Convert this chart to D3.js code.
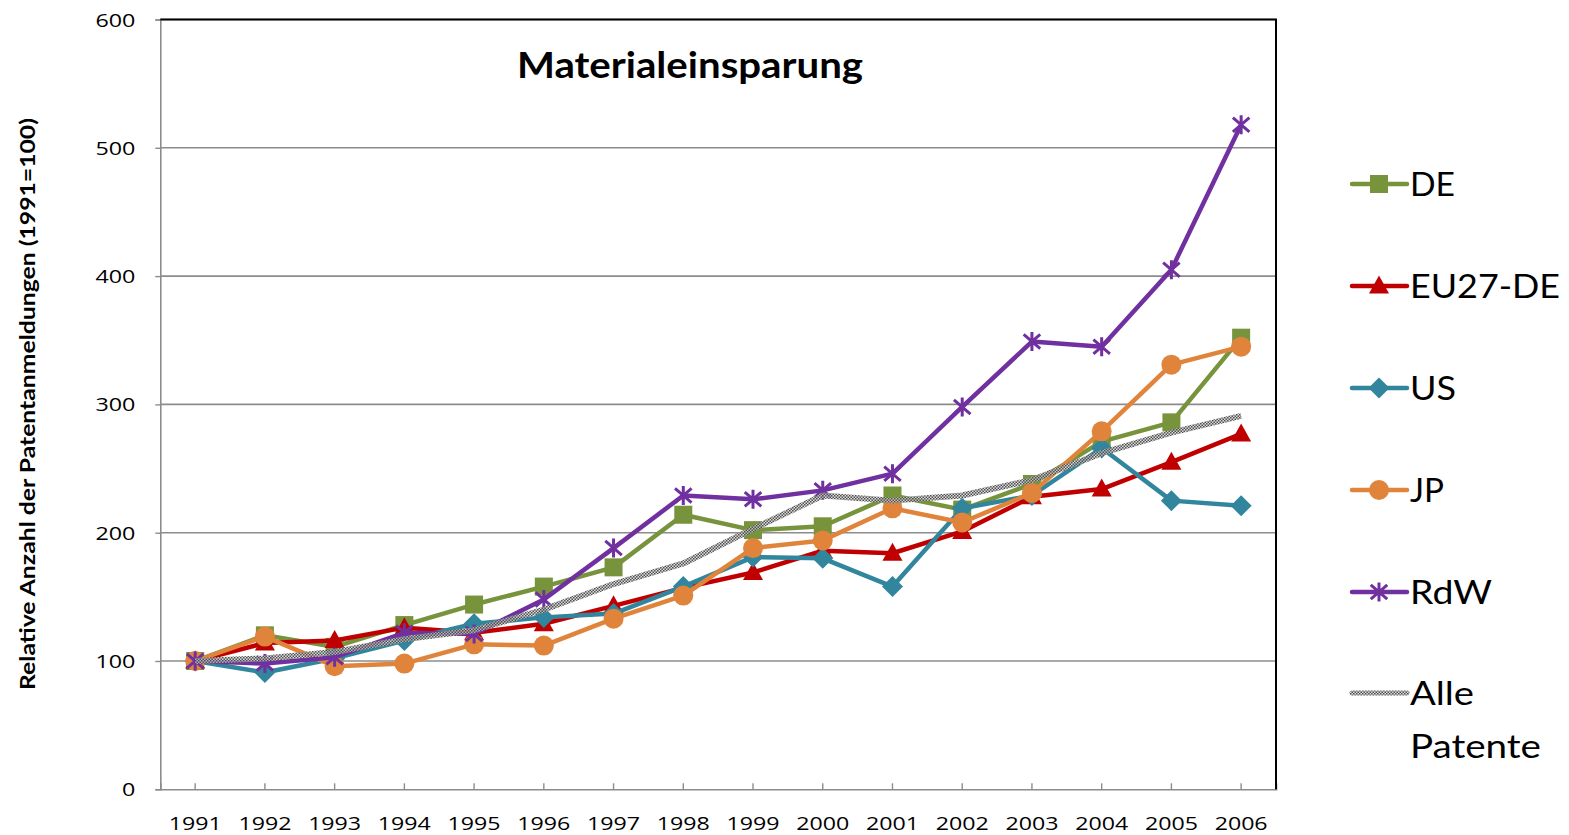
<!DOCTYPE html>
<html><head><meta charset="utf-8">
<script src="https://cdn.jsdelivr.net/npm/d3@7"></script>
<style>body{margin:0;background:#fff}svg{display:block}text{font-family:Lato,"Open Sans",sans-serif}</style>
</head><body>
<svg id="c" width="1569" height="835"></svg>
<script>
const years = ["1991","1992","1993","1994","1995","1996","1997","1998","1999","2000","2001","2002","2003","2004","2005","2006"];
const DE    = [100,120,111,128,144,158,173,214,202,205,229,218,238,271,286,352];
const EU27  = [100,114,116,126,122,129,143,157,169,186,184,201,228,234,255,277];
const US    = [100,91,102,116,129,134,137,158,181,180,158,219,229,266,225,221];
const JP    = [100,119,96,98,113,112,133,151,188,194,219,208,231,279,331,345];
const RdW   = [100,98,103,122,121,148,188,229,226,233,246,298,349,345,405,518];
const Alle  = [100,102,107,117,124,140,160,176,203,229,225,229,241,262,278,291];
const yTicks = [0,100,200,300,400,500,600];
const seriesNames = ["DE","EU27-DE","US","JP","RdW","Alle Patente"];

const series = [
  {name:seriesNames[0], values:DE,   color:"#77933C", marker:"square"},
  {name:seriesNames[1], values:EU27, color:"#C00000", marker:"triangle"},
  {name:seriesNames[2], values:US,   color:"#31859C", marker:"diamond"},
  {name:seriesNames[3], values:JP,   color:"#E0843C", marker:"circle"},
  {name:seriesNames[4], values:RdW,  color:"#7030A0", marker:"star"},
  {name:seriesNames[5], values:Alle, color:"url(#alle)", marker:"none"}
];

const svg = d3.select("#c");
const L=160.3, R=1276, T=19.5, B=789.3;
const x = d3.scaleBand().domain(years).range([L,R]);
const cx = d => x(d)+x.bandwidth()/2;
const y = d3.scaleLinear().domain([0,600]).range([B,T]);

const defs = svg.append("defs");
const pat = defs.append("pattern").attr("id","alle").attr("patternUnits","userSpaceOnUse")
  .attr("width",3).attr("height",3);
pat.append("rect").attr("width",3).attr("height",3).attr("fill","#d0d0d0").attr("fill-opacity",0.75);
pat.append("rect").attr("width",1.5).attr("height",1.5).attr("fill","#505050");
pat.append("rect").attr("x",1.5).attr("y",1.5).attr("width",1.5).attr("height",1.5).attr("fill","#505050");

// gridlines
svg.append("g").selectAll("line").data(yTicks.filter(t=>t>0)).join("line")
  .attr("x1",L).attr("x2",R).attr("y1",d=>y(d)).attr("y2",d=>y(d))
  .attr("stroke","#8c8c8c").attr("stroke-width",1.6);

// axes
const ya = svg.append("g").attr("transform",`translate(${L},0)`)
  .call(d3.axisLeft(y).tickValues(yTicks).tickSize(5));
ya.select(".domain").attr("stroke","#8c8c8c").attr("stroke-width",1.6);
ya.selectAll(".tick line").attr("stroke","#8c8c8c").attr("stroke-width",1.4);
ya.selectAll("text").attr("font-size",19).attr("fill","#000").attr("x",-25).attr("dy",null).attr("y",6.5)
  .attr("textLength",d=>String(d).length*13.3).attr("lengthAdjust","spacingAndGlyphs")
  .style("font-family","'Open Sans',sans-serif");

const xa = svg.append("g").attr("transform",`translate(0,${B})`)
  .call(d3.axisBottom(x).tickSize(-6));
xa.select(".domain").attr("stroke","#8c8c8c").attr("stroke-width",1.6);
xa.selectAll(".tick line").attr("stroke","#8c8c8c").attr("stroke-width",1.4);
xa.selectAll("text").attr("font-size",19).attr("fill","#000").attr("dy",null).attr("y",41)
  .attr("textLength",53).attr("lengthAdjust","spacingAndGlyphs")
  .style("font-family","'Open Sans',sans-serif");

// top and right border
svg.append("path").attr("d",`M${L},${T}H${R}V${B}`).attr("fill","none").attr("stroke","#000").attr("stroke-width",2);

// markers
function drawMarker(g, type, color, px, py){
  if(type==="square"){
    g.append("rect").attr("x",px-9).attr("y",py-9).attr("width",18).attr("height",18).attr("fill",color);
  } else if(type==="triangle"){
    g.append("path").attr("d",`M${px},${py-10.5}L${px+10},${py+7.5}L${px-10},${py+7.5}Z`).attr("fill",color);
  } else if(type==="diamond"){
    g.append("path").attr("d",`M${px},${py-10.5}L${px+10.5},${py}L${px},${py+10.5}L${px-10.5},${py}Z`).attr("fill",color);
  } else if(type==="circle"){
    g.append("circle").attr("cx",px).attr("cy",py).attr("r",10).attr("fill",color);
  } else if(type==="star"){
    const s=9.5;
    g.append("path").attr("d",`M${px},${py-s}V${py+s}M${px-s*0.87},${py-s*0.75}L${px+s*0.87},${py+s*0.75}M${px-s*0.87},${py+s*0.75}L${px+s*0.87},${py-s*0.75}`)
      .attr("stroke",color).attr("stroke-width",3).attr("fill","none");
  }
}

const line = d3.line().x((d,i)=>cx(years[i])).y(d=>y(d));
series.forEach(s=>{
  const g = svg.append("g");
  g.append("path").datum(s.values).attr("d",line).attr("fill","none")
    .attr("stroke",s.color).attr("stroke-width",s.marker==="none"?6:4.5).attr("stroke-linejoin","round");
  s.values.forEach((v,i)=>drawMarker(g,s.marker,s.color,cx(years[i]),y(v)));
});

// title
svg.append("text").attr("x",690).attr("y",77.5).attr("text-anchor","middle")
  .attr("font-size",36).attr("font-weight","bold")
  .attr("textLength",346).attr("lengthAdjust","spacingAndGlyphs").text("Materialeinsparung");

// y-axis title
svg.append("text").attr("transform","translate(35,404) rotate(-90)").attr("text-anchor","middle")
  .attr("font-size",21).attr("font-weight","bold")
  .attr("textLength",572).attr("lengthAdjust","spacingAndGlyphs")
  .text("Relative Anzahl der Patentanmeldungen (1991=100)");

// legend
const legY = [184,286,388,490,592,693];
const legW = {"DE":45,"EU27-DE":150,"US":46,"JP":34,"RdW":82,"Alle":64,"Patente":131};
series.forEach((s,i)=>{
  const g = svg.append("g");
  const ly = legY[i];
  g.append("line").attr("x1",1352).attr("x2",1407).attr("y1",ly).attr("y2",ly)
    .attr("stroke",s.color).attr("stroke-width",s.marker==="none"?5:4.5).attr("stroke-linecap","round");
  drawMarker(g,s.marker,s.color,1379,ly);
  const parts = s.name==="Alle Patente" ? ["Alle","Patente"] : [s.name];
  parts.forEach((p,k)=>{
    g.append("text").attr("x",1410).attr("y",ly+12+k*53).attr("font-size",33).attr("fill","#000")
      .attr("textLength",legW[p]).attr("lengthAdjust","spacingAndGlyphs").text(p);
  });
});
</script>
</body></html>
